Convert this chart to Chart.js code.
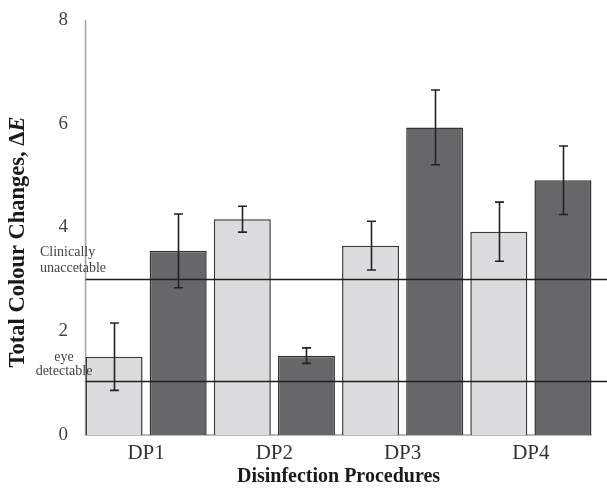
<!DOCTYPE html>
<html><head><meta charset="utf-8">
<script src="https://cdn.jsdelivr.net/npm/chart.js@4"></script>
<style>html,body{margin:0;padding:0;background:#fff;overflow:hidden}</style>
</head><body>
<canvas id="c" width="607" height="491"></canvas>
<script>
const categories = ['DP1', 'DP2', 'DP3', 'DP4'];
const seriesLight = [1.51, 4.16, 3.65, 3.92];
const errorsLight = [0.65, 0.25, 0.47, 0.57];
const seriesDark = [3.55, 1.53, 5.93, 4.91];
const errorsDark = [0.71, 0.15, 0.72, 0.66];
const thresholdValues = [3.0, 1.05];
const thresholdLabels = [['Clinically', 'unaccetable'], ['eye', 'detectable']];
const yTicks = [0, 2, 4, 6, 8];
const xTitle = 'Disinfection Procedures';
const yTitleMain = 'Total Colour Changes, \u0394';
const yTitleItalic = 'E';

const SERIF = '"Liberation Serif", "Times New Roman", serif';

function firstBarLeft(chart) {
  const el = chart.getDatasetMeta(0).data[0];
  return el.x - el.width / 2;
}
function lastBarRight(chart) {
  const d = chart.getDatasetMeta(chart.data.datasets.length - 1).data;
  const el = d[d.length - 1];
  return el.x + el.width / 2;
}

const axesPlugin = {
  id: 'axesLines',
  beforeDatasetsDraw(chart) {
    const ctx = chart.ctx, y = chart.scales.y;
    const left = firstBarLeft(chart), right = lastBarRight(chart);
    ctx.save();
    ctx.strokeStyle = '#a3a3a3';
    ctx.lineWidth = 1.5;
    ctx.beginPath();
    ctx.moveTo(left, y.getPixelForValue(y.max));
    ctx.lineTo(left, y.getPixelForValue(0));
    ctx.lineTo(right, y.getPixelForValue(0));
    ctx.stroke();
    ctx.restore();
  }
};

const overlayPlugin = {
  id: 'overlay',
  afterDatasetsDraw(chart) {
    const ctx = chart.ctx, y = chart.scales.y;
    ctx.save();
    ctx.strokeStyle = '#1e1e1e';
    ctx.lineWidth = 1.5;
    const left = firstBarLeft(chart);
    thresholdValues.forEach(v => {
      const py = Math.round(y.getPixelForValue(v)) + 0.5;
      ctx.beginPath();
      ctx.moveTo(left, py);
      ctx.lineTo(chart.width, py);
      ctx.stroke();
    });
    const errs = [errorsLight, errorsDark];
    ctx.strokeStyle = '#222';
    ctx.lineWidth = 1.6;
    chart.data.datasets.forEach((ds, di) => {
      chart.getDatasetMeta(di).data.forEach((el, i) => {
        const v = ds.data[i], e = errs[di][i];
        const top = y.getPixelForValue(v + e), bot = y.getPixelForValue(v - e);
        const x = Math.round(el.x) + 0.5, cw = 4.5;
        ctx.beginPath();
        ctx.moveTo(x, top); ctx.lineTo(x, bot);
        ctx.moveTo(x - cw, top); ctx.lineTo(x + cw, top);
        ctx.moveTo(x - cw, bot); ctx.lineTo(x + cw, bot);
        ctx.stroke();
      });
    });
    ctx.restore();
  },
  afterDraw(chart) {
    const ctx = chart.ctx, y = chart.scales.y;
    ctx.save();
    ctx.fillStyle = '#444';
    ctx.font = '14px ' + SERIF;
    ctx.textBaseline = 'middle';
    const p0 = y.getPixelForValue(thresholdValues[0]);
    ctx.textAlign = 'left';
    ctx.fillText(thresholdLabels[0][0], 40, p0 - 27);
    ctx.fillText(thresholdLabels[0][1], 40, p0 - 11);
    const p1 = y.getPixelForValue(thresholdValues[1]);
    ctx.textAlign = 'center';
    ctx.fillText(thresholdLabels[1][0], 64, p1 - 23);
    ctx.fillText(thresholdLabels[1][1], 64, p1 - 9);
    ctx.translate(18, 242);
    ctx.rotate(-Math.PI / 2);
    ctx.fillStyle = '#1a1a1a';
    ctx.textBaseline = 'middle';
    ctx.textAlign = 'left';
    const fMain = 'bold 22.5px ' + SERIF, fIt = 'italic bold 22.5px ' + SERIF;
    ctx.font = fMain; const w1 = ctx.measureText(yTitleMain).width;
    ctx.font = fIt; const w2 = ctx.measureText(yTitleItalic).width;
    const start = -(w1 + w2) / 2;
    ctx.font = fMain; ctx.fillText(yTitleMain, start, 0);
    ctx.font = fIt; ctx.fillText(yTitleItalic, start + w1, 0);
    ctx.restore();
  }
};

new Chart(document.getElementById('c'), {
  type: 'bar',
  data: {
    labels: categories,
    datasets: [
      { data: seriesLight, backgroundColor: '#dcdcde', borderColor: '#3a3a3a', borderWidth: 1.5 },
      { data: seriesDark, backgroundColor: '#67676a', borderColor: '#333', borderWidth: 1.5 }
    ]
  },
  options: {
    responsive: false,
    animation: false,
    devicePixelRatio: 1,
    layout: { padding: { left: 42, right: 12, top: 20, bottom: 0 } },
    categoryPercentage: 1.0,
    barPercentage: 0.889,
    plugins: { legend: { display: false }, tooltip: { enabled: false } },
    scales: {
      x: {
        grid: { display: false, drawTicks: false },
        border: { display: false },
        ticks: { font: { family: SERIF, size: 21 }, color: '#333', padding: 6 },
        title: { display: true, text: xTitle, color: '#1a1a1a',
                 font: { family: SERIF, size: 20, weight: 'bold' }, padding: { top: 2, bottom: 2 } },
        afterFit(s) { s.height = 56; s.paddingLeft = 0; s.paddingRight = 0; }
      },
      y: {
        min: 0, max: 8,
        afterBuildTicks(s) { s.ticks = yTicks.map(v => ({ value: v })); },
        grid: { display: false, drawTicks: false },
        border: { display: false },
        ticks: { font: { family: SERIF, size: 19 }, color: '#444', padding: 14 },
        afterFit(s) { s.width = 40; s.paddingTop = 0; s.paddingBottom = 0; }
      }
    }
  },
  plugins: [axesPlugin, overlayPlugin]
});
</script>
</body></html>
